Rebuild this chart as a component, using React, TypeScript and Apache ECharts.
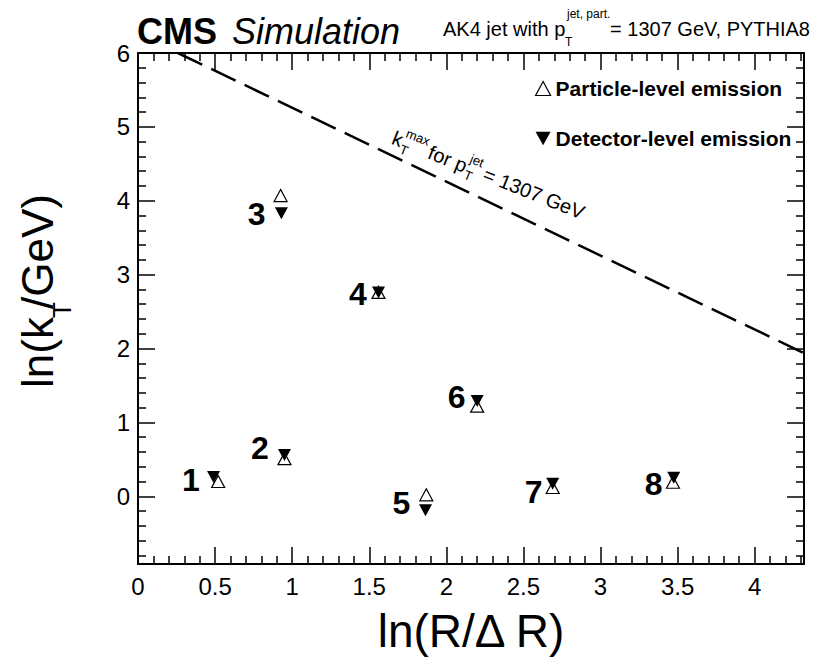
import React, { useEffect, useRef } from "react";
import * as echarts from "echarts";

const FONT = '"Liberation Sans", Arial, Helvetica, sans-serif';

// Axis ranges
const X_MIN = 0;
const X_MAX = 4.32;
const Y_MIN = -0.916;
const Y_MAX = 6;

// Emission index labels
const pointIds = ["1", "2", "3", "4", "5", "6", "7", "8"];

// Particle-level emissions (open triangles)
const particleX = [0.52, 0.95, 0.925, 1.56, 1.87, 2.2, 2.69, 3.47];
const particleY = [0.2, 0.51, 4.07, 2.76, 0.02, 1.22, 0.12, 0.19];

// Detector-level emissions (filled, down-pointing triangles)
const detectorX = [0.49, 0.95, 0.93, 1.56, 1.865, 2.2, 2.69, 3.475];
const detectorY = [0.26, 0.56, 3.83, 2.76, -0.19, 1.29, 0.17, 0.25];

// Positions of the index numbers (data coordinates)
const labelX = [0.343, 0.79, 0.77, 1.426, 1.708, 2.067, 2.566, 3.344];
const labelY = [0.226, 0.66, 3.825, 2.74, -0.085, 1.35, 0.064, 0.172];

// kT max line: ln(kT) = ln(pT * R) - ln(R/dR), pT = 1307 GeV, R = 0.4
const kTmaxX = [0.2585, 4.32];
const kTmaxY = [6.0, 1.9385];

const DOWN_TRIANGLE = "path://M0,0 L20,0 L10,18 Z";

export default function App() {
  const ref = useRef<HTMLDivElement>(null);

  useEffect(() => {
    if (!ref.current) return;
    const chart = echarts.init(ref.current, undefined, { renderer: "svg" });

    const tickCommon = {
      axisLine: { show: true, onZero: false, lineStyle: { color: "#000", width: 2 } },
      axisTick: { show: true, inside: true, length: 17, lineStyle: { color: "#000", width: 1.5 } },
      minorTick: { show: true, splitNumber: 5, length: 8, lineStyle: { color: "#000", width: 1.5 } },
      splitLine: { show: false },
      minorSplitLine: { show: false },
    };

    const txt = (text: string, size: number, extra: any = {}) => ({
      text,
      fontSize: size,
      fontFamily: FONT,
      fill: "#000",
      verticalAlign: "middle",
      ...extra,
    });

    const option: any = {
      animation: false,
      backgroundColor: "#fff",
      grid: { left: 138, right: 13, top: 53, bottom: 96 },
      xAxis: [
        {
          type: "value",
          min: X_MIN,
          max: X_MAX,
          splitNumber: 9,
          position: "bottom",
          ...tickCommon,
          axisLabel: {
            fontSize: 24,
            color: "#000",
            fontFamily: FONT,
            margin: 10,
            showMaxLabel: false,
          },
          name: "ln(R/\u0394 R)",
          nameLocation: "middle",
          nameGap: 44,
          nameTextStyle: { fontSize: 46, color: "#000", fontFamily: FONT },
        },
        {
          type: "value",
          min: X_MIN,
          max: X_MAX,
          splitNumber: 9,
          position: "top",
          ...tickCommon,
          axisLabel: { show: false },
        },
      ],
      yAxis: [
        {
          type: "value",
          min: Y_MIN,
          max: Y_MAX,
          splitNumber: 7,
          position: "left",
          ...tickCommon,
          axisLabel: {
            fontSize: 24,
            color: "#000",
            fontFamily: FONT,
            margin: 8,
            showMinLabel: false,
          },
        },
        {
          type: "value",
          min: Y_MIN,
          max: Y_MAX,
          splitNumber: 7,
          position: "right",
          ...tickCommon,
          axisLabel: { show: false },
        },
      ],
      legend: {
        orient: "vertical",
        left: 530,
        top: 73,
        itemWidth: 15,
        itemHeight: 14,
        itemGap: 29,
        data: [
          { name: "Particle-level emission", icon: "triangle", itemStyle: { color: "rgba(0,0,0,0)", borderColor: "#000", borderWidth: 1.2, opacity: 1 } },
          { name: "Detector-level emission", icon: DOWN_TRIANGLE, itemStyle: { color: "#000", opacity: 1 } },
        ],
        textStyle: {
          fontSize: 21,
          fontWeight: "bold",
          color: "#000",
          fontFamily: FONT,
          lineHeight: 20,
        },
      },
      series: [
        {
          type: "line",
          name: "kTmax",
          data: kTmaxX.map((x, i) => [x, kTmaxY[i]]),
          symbol: "none",
          lineStyle: { type: [27, 10], width: 2.5, color: "#000" },
          silent: true,
          z: 2,
        },
        {
          type: "scatter",
          name: "Detector-level emission",
          symbol: "triangle",
          symbolRotate: 180,
          symbolSize: [13, 12],
          itemStyle: { color: "#000", opacity: 1 },
          data: detectorX.map((x, i) => [x, detectorY[i]]),
          z: 3,
        },
        {
          type: "scatter",
          name: "Particle-level emission",
          symbol: "triangle",
          symbolSize: [13, 12],
          itemStyle: { color: "rgba(0,0,0,0)", borderColor: "#000", borderWidth: 1.2, opacity: 1 },
          data: particleX.map((x, i) => [x, particleY[i]]),
          z: 4,
        },
        {
          type: "scatter",
          name: "ids",
          symbolSize: 1,
          itemStyle: { color: "rgba(0,0,0,0)", opacity: 1 },
          silent: true,
          data: labelX.map((x, i) => ({ value: [x, labelY[i]], name: pointIds[i] })),
          label: {
            show: true,
            position: "inside",
            formatter: "{b}",
            fontSize: 32,
            fontWeight: "bold",
            color: "#000",
            opacity: 1,
            fontFamily: FONT,
          },
        },
      ],
      graphic: [
        { type: "text", x: 137, y: 31, style: txt("CMS", 36, { fontWeight: "bold" }) },
        { type: "text", x: 232, y: 31, style: txt("Simulation", 36, { fontStyle: "italic" }) },
        { type: "text", x: 443, y: 29, style: txt("AK4 jet with p", 20) },
        { type: "text", x: 567, y: 14, style: txt("jet, part.", 12) },
        { type: "text", x: 565, y: 42, style: txt("T", 12) },
        { type: "text", x: 810, y: 29, style: txt("= 1307 GeV, PYTHIA8", 20, { align: "right" }) },
        // y-axis title: ln(k_T/GeV), rotated
        { type: "text", x: 37, y: 388, rotation: Math.PI / 2, style: txt("ln(k", 44, { align: "left" }) },
        { type: "text", x: 62, y: 310, rotation: Math.PI / 2, style: txt("T", 26, { align: "center" }) },
        { type: "text", x: 37, y: 194, rotation: Math.PI / 2, style: txt("/GeV)", 44, { align: "right" }) },
        {
          type: "group",
          x: 393,
          y: 137,
          rotation: -0.38,
          children: [
            { type: "text", x: 0, y: 0, style: txt("k", 20) },
            { type: "text", x: 11, y: -9, style: txt("max", 13) },
            { type: "text", x: 11, y: 8, style: txt("T", 13) },
            { type: "text", x: 39, y: 0, style: txt("for p", 20) },
            { type: "text", x: 80, y: -9, style: txt("jet", 13) },
            { type: "text", x: 80, y: 8, style: txt("T", 13) },
            { type: "text", x: 98, y: 0, style: txt("= 1307 GeV", 20) },
          ],
        },
      ],
    };

    chart.setOption(option);
    return () => chart.dispose();
  }, []);

  return (
    <div
      ref={ref}
      style={{ position: "absolute", left: 0, top: 0, width: 817, height: 660, background: "#fff" }}
    />
  );
}
